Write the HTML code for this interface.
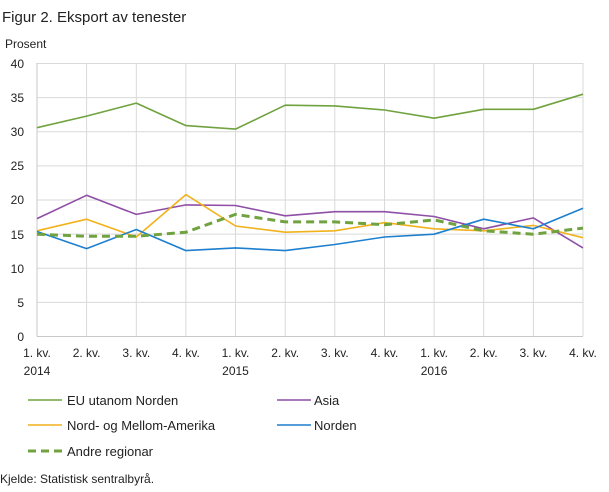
<!DOCTYPE html>
<html><head><meta charset="utf-8"><style>
body{margin:0;background:#fff;font-family:"Liberation Sans",sans-serif;}
</style></head><body>
<svg width="609" height="487" xmlns="http://www.w3.org/2000/svg" font-family="Liberation Sans, sans-serif" fill="#222">
<text x="2" y="22" font-size="15">Figur 2. Eksport av tenester</text>
<text x="5" y="48" font-size="12">Prosent</text>
<g stroke="#d9d9d9" stroke-width="1">
<line x1="37" y1="63.5" x2="583" y2="63.5"/><line x1="37" y1="97.6" x2="583" y2="97.6"/><line x1="37" y1="131.8" x2="583" y2="131.8"/><line x1="37" y1="165.9" x2="583" y2="165.9"/><line x1="37" y1="200" x2="583" y2="200"/><line x1="37" y1="234.1" x2="583" y2="234.1"/><line x1="37" y1="268.3" x2="583" y2="268.3"/><line x1="37" y1="302.4" x2="583" y2="302.4"/>
<line x1="86.6" y1="63" x2="86.6" y2="336"/><line x1="136.3" y1="63" x2="136.3" y2="336"/><line x1="185.9" y1="63" x2="185.9" y2="336"/><line x1="235.5" y1="63" x2="235.5" y2="336"/><line x1="285.2" y1="63" x2="285.2" y2="336"/><line x1="334.8" y1="63" x2="334.8" y2="336"/><line x1="384.5" y1="63" x2="384.5" y2="336"/><line x1="434.1" y1="63" x2="434.1" y2="336"/><line x1="483.7" y1="63" x2="483.7" y2="336"/><line x1="533.4" y1="63" x2="533.4" y2="336"/><line x1="583" y1="63" x2="583" y2="336"/>
</g>
<line x1="37" y1="63" x2="37" y2="336.5" stroke="#c8c8c8"/>
<line x1="37" y1="336.5" x2="583" y2="336.5" stroke="#c8c8c8"/>
<g font-size="12" text-anchor="end">
<text x="24" y="68">40</text><text x="24" y="102">35</text><text x="24" y="136">30</text><text x="24" y="170">25</text><text x="24" y="204">20</text><text x="24" y="239">15</text><text x="24" y="273">10</text><text x="24" y="307">5</text><text x="24" y="341">0</text>
</g>
<g font-size="12" text-anchor="middle">
<text x="37" y="357">1. kv.</text><text x="86.6" y="357">2. kv.</text><text x="136.3" y="357">3. kv.</text><text x="185.9" y="357">4. kv.</text><text x="235.5" y="357">1. kv.</text><text x="285.2" y="357">2. kv.</text><text x="334.8" y="357">3. kv.</text><text x="384.5" y="357">4. kv.</text><text x="434.1" y="357">1. kv.</text><text x="483.7" y="357">2. kv.</text><text x="533.4" y="357">3. kv.</text><text x="583" y="357">4. kv.</text>
<text x="37" y="375">2014</text><text x="235.5" y="375">2015</text><text x="434.1" y="375">2016</text>
</g>
<g fill="none" stroke-width="1.6" stroke-linejoin="round">
<polyline stroke="#70a33f" points="37,127.7 86.6,116.1 136.3,103.1 185.9,125.6 235.5,129.1 285.2,105.2 334.8,105.9 384.5,110 434.1,118.2 483.7,109.3 533.4,109.3 583,94.2"/>
<polyline stroke="#8f4fa6" points="37,218.6 86.6,195.3 136.3,214.4 185.9,204.9 235.5,205.5 285.2,215.8 334.8,211.7 384.5,211.7 434.1,216.5 483.7,228.8 533.4,217.9 583,247.9"/>
<polyline stroke="#f1b21c" points="37,230.8 86.6,219.2 136.3,237 185.9,194.6 235.5,226 285.2,232.2 334.8,230.8 384.5,222.6 434.1,228.8 483.7,230.8 533.4,225.4 583,237.7"/>
<polyline stroke="#1d7fce" points="37,231.5 86.6,248.6 136.3,229.5 185.9,250.6 235.5,247.9 285.2,250.6 334.8,244.5 384.5,237 434.1,234.2 483.7,219.2 533.4,228.8 583,208.3"/>
<polyline stroke="#70a33f" stroke-width="3" stroke-dasharray="8,5" points="37,234.2 86.6,236.3 136.3,236.3 185.9,232.2 235.5,214.4 285.2,221.9 334.8,221.9 384.5,224.7 434.1,219.9 483.7,230.8 533.4,234.2 583,228.1"/>
</g>
<g font-size="13">
<line x1="28" y1="400" x2="62" y2="400" stroke="#70a33f" stroke-width="1.6"/><text x="67" y="405">EU utanom Norden</text>
<line x1="277" y1="400" x2="311" y2="400" stroke="#8f4fa6" stroke-width="1.6"/><text x="314" y="405">Asia</text>
<line x1="28" y1="425" x2="62" y2="425" stroke="#f1b21c" stroke-width="1.6"/><text x="67" y="430">Nord- og Mellom-Amerika</text>
<line x1="277" y1="425" x2="311" y2="425" stroke="#1d7fce" stroke-width="1.6"/><text x="314" y="430">Norden</text>
<line x1="28" y1="451" x2="62" y2="451" stroke="#70a33f" stroke-width="3" stroke-dasharray="8,5"/><text x="67" y="456">Andre regionar</text>
</g>
<text x="0" y="483" font-size="12">Kjelde: Statistisk sentralbyrå.</text>
</svg>
</body></html>
